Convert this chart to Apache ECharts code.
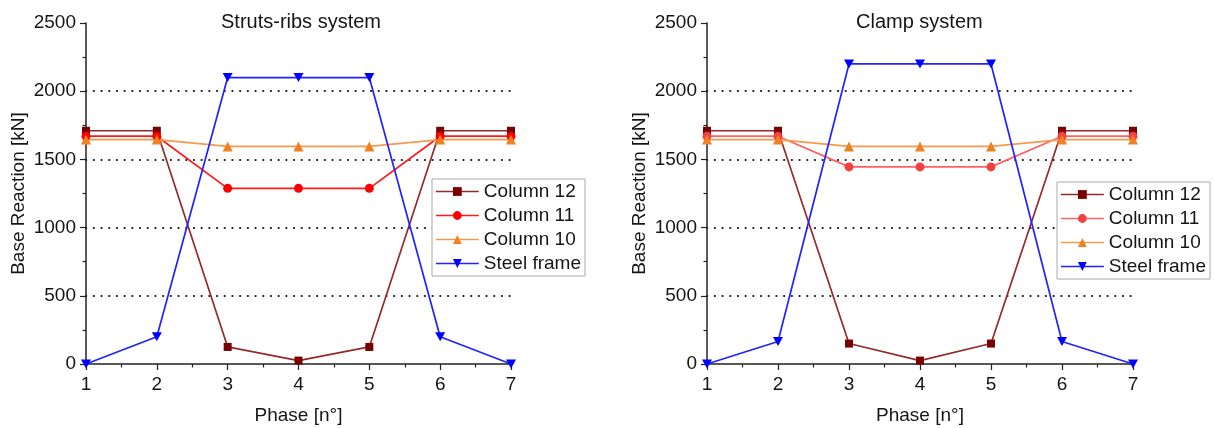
<!DOCTYPE html>
<html><head><meta charset="utf-8">
<script src="https://cdn.jsdelivr.net/npm/echarts@6/dist/echarts.min.js"></script>
<style>html,body{margin:0;padding:0;background:#fff}#c{width:1214px;height:428px}</style>
</head><body><div id="c"></div>
<script>
const phases = [1, 2, 3, 4, 5, 6, 7];
const seriesNames = ['Column 12', 'Column 11', 'Column 10', 'Steel frame'];
const strutsCol12 = [1710, 1710, 125, 25, 125, 1710, 1710];
const strutsCol11 = [1670, 1670, 1288, 1288, 1288, 1670, 1670];
const strutsCol10 = [1645, 1645, 1595, 1595, 1595, 1645, 1645];
const strutsSteel = [0, 200, 2100, 2100, 2100, 200, 0];
const clampCol12 = [1710, 1710, 150, 25, 150, 1710, 1710];
const clampCol11 = [1670, 1670, 1445, 1445, 1445, 1670, 1670];
const clampCol10 = [1645, 1645, 1595, 1595, 1595, 1645, 1645];
const clampSteel = [0, 165, 2200, 2200, 2200, 165, 0];
const titles = ['Struts-ribs system', 'Clamp system'];
const xName = 'Phase [n°]';
const yName = 'Base Reaction [kN]';

const FONT = '"Liberation Sans", Arial, sans-serif';
const TXT = '#151515';
const styleLeft = [
  { symbol: 'rect', size: 8, line: '#952a2a', fill: '#7a0000' },
  { symbol: 'circle', size: 9, line: '#ff1a1a', fill: '#ff0000' },
  { symbol: 'triangle', size: 10, line: '#f59a4c', fill: '#f28020' },
  { symbol: 'path://M0,0L10,0L5,9Z', size: [10, 9], line: '#2222ff', fill: '#0000ff' }
];
const styleRight = [
  styleLeft[0],
  { symbol: 'circle', size: 9, line: '#ff6262', fill: '#f24040' },
  styleLeft[2],
  styleLeft[3]
];

const grids = [
  { left: 86, top: 23, width: 425, height: 341, containLabel: false, outerBoundsMode: 'none' },
  { left: 707, top: 23, width: 426, height: 341, containLabel: false, outerBoundsMode: 'none' }
];

function xAxis(i) {
  return {
    type: 'value', gridIndex: i, min: 1, max: 7, interval: 1,
    name: xName, nameLocation: 'middle', nameGap: 42,
    nameTextStyle: { fontFamily: FONT, fontSize: 19, color: TXT },
    axisLine: { show: true, onZero: false, lineStyle: { color: '#222', width: 1.5 } },
    axisTick: { show: true, inside: false, length: 6, lineStyle: { color: '#222', width: 1.2 } },
    minorTick: { show: true, splitNumber: 2, length: 3.5, lineStyle: { color: '#222', width: 1.2 } },
    axisLabel: { fontFamily: FONT, fontSize: 19, color: TXT, margin: 11, formatter: v => String(v) },
    splitLine: { show: false }
  };
}
function yAxis(i) {
  return {
    type: 'value', gridIndex: i, min: 0, max: 2500, interval: 500,
    name: yName, nameLocation: 'middle', nameGap: 58,
    nameTextStyle: { fontFamily: FONT, fontSize: 19, color: TXT },
    axisLine: { show: true, lineStyle: { color: '#222', width: 1.5 } },
    axisTick: { show: true, inside: false, length: 6, lineStyle: { color: '#222', width: 1.2 } },
    minorTick: { show: true, splitNumber: 2, length: 3.5, lineStyle: { color: '#222', width: 1.2 } },
    axisLabel: { fontFamily: FONT, fontSize: 19, color: TXT, margin: 10, formatter: v => String(v) },
    splitLine: { show: true, showMinLine: false, showMaxLine: false,
      lineStyle: { color: '#222', width: 2, type: [0.3, 7.4], cap: 'round' } }
  };
}

function mk(name, vals, st, idx) {
  return {
    type: 'line', name: name, xAxisIndex: idx, yAxisIndex: idx,
    data: phases.map((p, k) => [p, vals[k]]),
    symbol: st.symbol, symbolSize: st.size, showAllSymbol: true,
    lineStyle: { color: st.line, width: 1.7 },
    itemStyle: { color: st.fill, borderWidth: 0 },
    emphasis: { disabled: true }, animation: false
  };
}

const leftData = [strutsCol12, strutsCol11, strutsCol10, strutsSteel];
const rightData = [clampCol12, clampCol11, clampCol10, clampSteel];
const series = [];
leftData.forEach((d, k) => series.push(mk(seriesNames[k], d, styleLeft[k], 0)));
rightData.forEach((d, k) => series.push(mk(seriesNames[k], d, styleRight[k], 1)));

function legend(left, top, st) {
  return {
    orient: 'vertical', left: left, top: top,
    padding: [3, 4, 3, 3], itemGap: 5, itemWidth: 43, itemHeight: 11,
    backgroundColor: '#fff', borderColor: '#aaa', borderWidth: 1,
    textStyle: { fontFamily: FONT, fontSize: 19, color: TXT },
    selectedMode: false,
    data: seriesNames.map((n, k) => ({
      name: n,
      itemStyle: { color: st[k].fill },
      lineStyle: { color: st[k].line, width: 1.7 }
    }))
  };
}

const chart = echarts.init(document.getElementById('c'), null, { renderer: 'canvas' });
chart.setOption({
  backgroundColor: '#fff',
  animation: false,
  grid: grids,
  xAxis: [xAxis(0), xAxis(1)],
  yAxis: [yAxis(0), yAxis(1)],
  legend: [legend(432, 179, styleLeft), legend(1057, 182, styleRight)],
  graphic: [
    { type: 'text', left: 305 - 84, top: 12, style: { text: titles[0], fontFamily: FONT, fontSize: 20, fill: TXT } },
    { type: 'text', left: 922 - 66, top: 12, style: { text: titles[1], fontFamily: FONT, fontSize: 20, fill: TXT } }
  ],
  series: series
});
</script></body></html>
